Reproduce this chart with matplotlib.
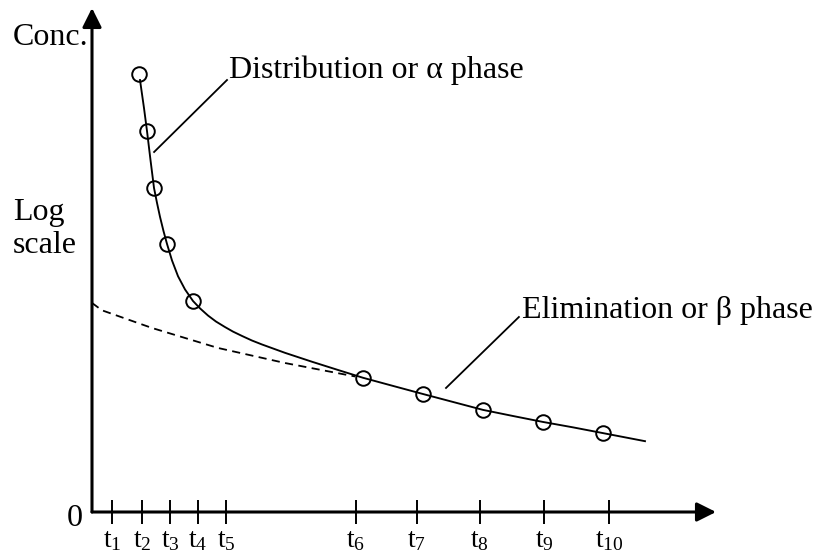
import matplotlib
matplotlib.use("Agg")
import matplotlib.pyplot as plt

plt.rcParams['font.family'] = ['Liberation Serif', 'DejaVu Serif']
plt.rcParams['mathtext.fontset'] = 'custom'
plt.rcParams['mathtext.rm'] = 'Liberation Serif'
plt.rcParams['mathtext.it'] = 'Liberation Serif:italic'

# ---- data (time in arbitrary units, concentration on log scale) ----
obs_time = [1.57, 1.83, 2.07, 2.5, 3.37, 9.03, 11.03, 13.03, 15.03, 17.03]
obs_conc = [155, 80.4, 41.7, 21.9, 11.3, 4.7, 3.9, 3.24, 2.82, 2.48]

curve_time = [1.6, 1.733, 1.833, 1.95, 2.067, 2.167, 2.267, 2.383, 2.5, 2.667,
              2.867, 3.1, 3.367, 3.6, 3.867, 4.133, 4.433, 4.7, 5.0, 5.333,
              5.667, 6.433, 7.333, 8.2, 9.033, 10.033, 11.033, 12.033, 13.033,
              14.033, 15.033, 16.033, 17.033, 18.433]
curve_conc = [144.5, 104.7, 80.4, 57.5, 41.7, 35.1, 29.9, 25.4, 21.9, 18.1,
              15.1, 12.97, 11.35, 10.43, 9.6, 8.96, 8.41, 7.98, 7.59, 7.2,
              6.88, 6.25, 5.64, 5.13, 4.69, 4.27, 3.89, 3.55, 3.24,
              3.02, 2.82, 2.65, 2.48, 2.26]

beta_time = [0.0, 0.33, 2.0, 4.2, 6.43, 8.77]
beta_conc = [11.1, 10.2, 8.32, 6.61, 5.56, 4.76]

tick_pos = [0.67, 1.67, 2.6, 3.53, 4.47, 8.8, 10.83, 12.93, 15.07, 17.23]
tick_labels = [r'$\mathrm{t}_{%d}$' % i for i in range(1, 11)]

W, H = 815, 558
fig = plt.figure(figsize=(W / 100, H / 100), dpi=100)

def fx(px):
    return px / W

def fy(py):
    return 1 - py / H

ax = fig.add_axes([fx(92), fy(512), fx(716) - fx(92), fy(8) - fy(512)])
ax.set_yscale('log')
ax.set_xlim(0, 20.8)
ax.set_ylim(1, 10 ** 2.52)
for s in ax.spines.values():
    s.set_visible(False)
ax.set_yticks([])
ax.yaxis.set_minor_locator(matplotlib.ticker.NullLocator())
ax.set_xticks(tick_pos)
ax.set_xticklabels(tick_labels, fontsize=20)
ax.tick_params(axis='x', direction='inout', length=17, width=1.4, pad=3)
ax.patch.set_visible(False)

# axes with arrows
arrow_style = '-|>,head_length=0.58,head_width=0.29'
ax.annotate('', xy=(1, 0), xytext=(0, 0), xycoords='axes fraction',
            textcoords='axes fraction',
            arrowprops=dict(arrowstyle=arrow_style, lw=2.2, color='black',
                            mutation_scale=20, shrinkA=0, shrinkB=0),
            annotation_clip=False)
ax.annotate('', xy=(0, 1), xytext=(0, 0), xycoords='axes fraction',
            textcoords='axes fraction',
            arrowprops=dict(arrowstyle=arrow_style, lw=2.2, color='black',
                            mutation_scale=20, shrinkA=0, shrinkB=0),
            annotation_clip=False)

# curves
ax.plot(curve_time, curve_conc, color='black', lw=1.35, clip_on=False,
        solid_joinstyle='round')
ax.plot(beta_time, beta_conc, color='black', lw=1.3, linestyle=(0, (4.5, 3)),
        clip_on=False)
ax.plot(obs_time, obs_conc, linestyle='none', marker='o', markersize=10.5,
        markerfacecolor='none', markeredgecolor='black', markeredgewidth=1.4,
        clip_on=False)

# leader lines
ax.plot([2.07, 4.5], [63.1, 144.5], color='black', lw=1.3)
ax.plot([11.8, 14.23], [4.17, 9.44], color='black', lw=1.3)

fs = 23
fig.text(fx(229), fy(78), 'Distribution or α phase', fontsize=fs,
         ha='left', va='baseline')
fig.text(fx(522), fy(318), 'Elimination or β phase', fontsize=fs,
         ha='left', va='baseline')
fig.text(fx(13), fy(45), 'Conc.', fontsize=fs, ha='left', va='baseline')
fig.text(fx(13), fy(220), 'Log', fontsize=fs, ha='left', va='baseline')
fig.text(fx(13), fy(253), 'scale', fontsize=fs, ha='left', va='baseline')
fig.text(fx(83), fy(526), '0', fontsize=fs, ha='right', va='baseline')

fig.savefig('out.png', dpi=100)
